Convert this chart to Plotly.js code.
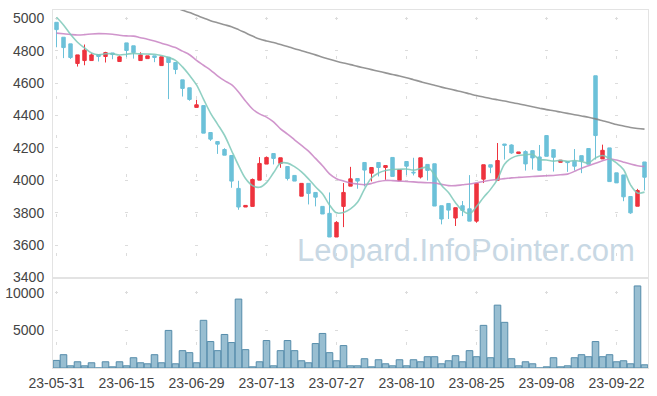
<!DOCTYPE html>
<html><head><meta charset="utf-8">
<script src="https://cdn.plot.ly/plotly-3.0.1.min.js"></script>
<style>html,body{margin:0;padding:0;background:#fff}#chart{width:657px;height:396px}</style>
</head><body><div id="chart"></div>
<script>
const dates = ['23-05-31','23-06-01','23-06-02','23-06-05','23-06-07','23-06-08','23-06-09','23-06-12','23-06-13','23-06-14',
'23-06-15','23-06-16','23-06-19','23-06-20','23-06-21','23-06-22','23-06-23','23-06-26','23-06-27','23-06-28',
'23-06-29','23-06-30','23-07-03','23-07-04','23-07-05','23-07-06','23-07-07','23-07-10','23-07-11','23-07-12',
'23-07-13','23-07-14','23-07-17','23-07-18','23-07-19','23-07-20','23-07-21','23-07-24','23-07-25','23-07-26',
'23-07-27','23-07-28','23-07-31','23-08-01','23-08-02','23-08-03','23-08-04','23-08-07','23-08-08','23-08-09',
'23-08-10','23-08-11','23-08-14','23-08-16','23-08-17','23-08-18','23-08-21','23-08-22','23-08-23','23-08-24',
'23-08-25','23-08-28','23-08-29','23-08-30','23-08-31','23-09-01','23-09-04','23-09-05','23-09-06','23-09-07',
'23-09-08','23-09-11','23-09-12','23-09-13','23-09-14','23-09-15','23-09-18','23-09-19','23-09-20','23-09-21',
'23-09-22','23-09-25','23-09-26','23-09-27','23-10-04'];

const openP = [4975,4883,4842,4721,4739,4739,4776,4764,4786,4733, 4848,4830,4739,4751,4768,4708,4760,4727,4620,4571,
4450,4461,4295,4239,4190,4153,3950,3835,3839,4001, 4100,4165,4104,4085,4030,3902,3981,3925,3839,3796,
3650,3839,3964,4011,4110,4044,4110,4079,4141,3999, 4116,4050,4020,4098,4102,3843,3857,3767,3843,3824,
3748,4007,4096,4000,4224,4218,4165,4177,4183,4144, 4276,4189,4111,4116,4118,4152,4196,4645,4132,4200,
4046,4033,3900,3840,4113];
const highP = [4975,4883,4842,4774,4838,4784,4776,4793,4786,4770, 4848,4830,4790,4768,4768,4762,4760,4727,4620,4571,
4497,4461,4295,4239,4198,4153,3997,3845,4011,4143, 4147,4165,4139,4085,4030,3981,3981,3925,3839,3925,
3748,3983,4083,4011,4110,4079,4110,4091,4141,4067, 4116,4139,4139,4098,4102,3843,3857,3831,3872,4032,
3981,4096,4096,4230,4224,4222,4175,4185,4183,4218, 4276,4189,4124,4116,4193,4152,4196,4645,4220,4200,
4046,4033,3900,3947,4113];
const lowP = [4821,4754,4749,4702,4710,4739,4733,4727,4747,4733, 4760,4751,4739,4751,4729,4708,4501,4655,4517,4491,
4450,4291,4243,4163,4155,3954,3818,3835,3839,4001, 4100,4098,4077,3999,3995,3902,3851,3839,3792,3650,
3650,3711,3964,3948,3962,3993,4024,4003,4024,3999, 4032,4030,4011,3999,3841,3728,3761,3718,3779,3748,
3738,3983,4044,4000,4128,4163,4165,4060,4066,4062, 4148,4054,4111,4052,4060,4044,4099,4128,4132,3992,
3984,3871,3793,3840,3937];
const closeP = [4930,4819,4758,4774,4803,4774,4764,4788,4776,4762, 4801,4788,4774,4768,4758,4762,4727,4684,4567,4499,
4466,4291,4254,4223,4155,3995,3835,3845,4005,4104, 4141,4135,4139,4011,3995,3981,3919,3896,3792,3650,
3740,3925,4009,3995,4063,4079,4079,4091,4024,4067, 4087,4046,4139,4061,3841,3761,3816,3831,3814,3748,
3981,4096,4081,4122,4216,4169,4175,4101,4138,4062, 4148,4142,4124,4109,4087,4118,4099,4276,4185,3992,
3984,3898,3799,3937,4019];

const ma5 = [5006,4959,4901,4852,4817,4786,4775,4781,4781,4773, 4778,4783,4780,4779,4778,4770,4758,4740,4700,4648,
4589,4501,4415,4347,4278,4184,4092,4011,3967,3957, 3986,4046,4105,4106,4084,4052,4009,3960,3917,3848,
3799,3801,3823,3864,3946,4014,4045,4061,4067,4068, 4070,4063,4073,4080,4035,3970,3924,3862,3813,3794,
3838,3894,3944,4006,4099,4137,4153,4157,4160,4129, 4125,4118,4123,4117,4122,4116,4107,4138,4153,4134,
4107,4067,3972,3922,3927];
const ma20 = [4908,4904,4900,4897,4899,4903,4905,4904,4901,4895, 4891,4890,4880,4871,4860,4846,4833,4819,4797,4775,
4740,4710,4680,4645,4615,4590,4545,4490,4440,4410, 4390,4360,4318,4285,4250,4215,4180,4135,4090,4040,
4010,3995,3983,3977,3973,3980,3992,3999,3998,3995, 3993,3990,3987,3985,3983,3975,3967,3967,3972,3977,
3985,3993,4000,4006,4010,4015,4018,4020,4023,4026, 4028,4030,4034,4038,4055,4075,4090,4105,4120,4131,
4125,4112,4100,4090,4085];
const ma60 = [null,null,null,null,null,null,null,null,null,null, null,null,null,null,null,null,null,5065,5050,5035,
5018,5002,4985,4972,4960,4948,4930,4910,4890,4872, 4860,4850,4838,4826,4812,4800,4787,4774,4760,4747,
4735,4724,4714,4703,4693,4683,4673,4663,4653,4644, 4633,4621,4609,4597,4586,4575,4565,4555,4545,4534,
4523,4514,4505,4497,4489,4480,4472,4463,4454,4445, 4436,4429,4421,4413,4405,4397,4389,4379,4368,4357,
4344,4335,4326,4320,4316];

const volume = [1008,1770,291,829,291,694,0,829,157,829, 291,1366,694,560,1770,694,4995,560,2307,2038,
694,6339,3517,2307,4458,3382,9162,2442,157,829, 3651,291,2307,3651,2307,963,694,3248,4592,2038,
963,2979,291,291,1232,157,1098,560,291,1098, 291,1098,829,1501,1501,560,963,1635,829,2307,
1501,5667,1366,8355,6070,1232,291,829,560,0, 157,1366,157,291,1366,1770,1501,3517,1501,1770,
829,963,560,10909,426];

const priceTicks = [3400,3600,3800,4000,4200,4400,4600,4800,5000];
const volumeTicks = [5000,10000];
const xTickLabels = ['23-05-31','23-06-15','23-06-29','23-07-13','23-07-27','23-08-10','23-08-25','23-09-08','23-09-22'];

const UP = '#ee333e', DOWN = '#6cc1d9';
const traces = [
  {type:'candlestick', x:dates, open:openP, high:highP, low:lowP, close:closeP,
   xaxis:'x2', yaxis:'y2', whiskerwidth:0, hoverinfo:'skip',
   increasing:{line:{color:UP,width:1}, fillcolor:UP},
   decreasing:{line:{color:DOWN,width:1}, fillcolor:DOWN}},
  {type:'scatter', mode:'lines', x:dates, y:ma60, xaxis:'x2', yaxis:'y2', hoverinfo:'skip',
   line:{color:'rgba(130,130,130,0.85)', width:1.6, shape:'spline'}},
  {type:'scatter', mode:'lines', x:dates, y:ma20, xaxis:'x2', yaxis:'y2', hoverinfo:'skip',
   line:{color:'rgba(200,130,195,0.85)', width:1.6, shape:'spline'}},
  {type:'scatter', mode:'lines', x:dates, y:ma5, xaxis:'x2', yaxis:'y2', hoverinfo:'skip',
   line:{color:'rgba(125,200,185,0.85)', width:1.6, shape:'spline'}},
  {type:'bar', x:dates, y:volume, xaxis:'x', yaxis:'y', hoverinfo:'skip',
   marker:{color:'rgba(118,168,194,0.75)', line:{color:'rgb(85,140,170)', width:1}}}
];

const split = 0.2514;
const axFont = {family:'Liberation Sans, Arial, sans-serif', size:14, color:'#444'};
const lineC = '#e3e3e3';
const layout = {
  width:657, height:396,
  margin:{l:53, r:9, t:10, b:28, pad:0},
  paper_bgcolor:'#fff', plot_bgcolor:'#fff',
  showlegend:false, bargap:0.06, boxgap:0.3,
  xaxis:{type:'category', domain:[0,1], anchor:'y', range:[-0.5,84.5],
    tickmode:'array', tickvals:xTickLabels, ticktext:xTickLabels,
    tickfont:axFont, showline:true, mirror:true, linecolor:lineC, linewidth:1,
    showgrid:true, gridcolor:'#dcdcdc', gridwidth:1, griddash:'0px,13.2px,3px,34.4px',
    ticks:'outside', ticklen:2, tickcolor:'rgba(0,0,0,0)', zeroline:false,
    rangeslider:{visible:false}, fixedrange:true},
  yaxis:{domain:[0,split], anchor:'x', range:[0,11965],
    tickmode:'array', tickvals:volumeTicks, ticktext:['5000','10000'],
    tickfont:axFont, showline:true, mirror:true, linecolor:lineC, linewidth:1,
    showgrid:true, gridcolor:'#dcdcdc', gridwidth:1, griddash:'0px,2px,3px,65px',
    ticks:'outside', ticklen:5, tickcolor:'rgba(0,0,0,0)', zeroline:false, fixedrange:true},
  xaxis2:{type:'category', domain:[0,1], anchor:'y2', matches:'x', range:[-0.5,84.5],
    tickmode:'array', tickvals:xTickLabels, showticklabels:false,
    showline:true, mirror:true, linecolor:lineC, linewidth:1,
    showgrid:true, gridcolor:'#dcdcdc', gridwidth:1, griddash:'0px,6.8px,3px,29.6px',
    zeroline:false, rangeslider:{visible:false}, fixedrange:true},
  yaxis2:{domain:[split,1], anchor:'x2', range:[3397,5051],
    tickmode:'array', tickvals:priceTicks, ticktext:priceTicks.map(String),
    tickfont:axFont, showline:true, mirror:true, linecolor:lineC, linewidth:1,
    showgrid:true, gridcolor:'#dcdcdc', gridwidth:1, griddash:'0px,2px,3px,65px',
    ticks:'outside', ticklen:5, tickcolor:'rgba(0,0,0,0)', zeroline:false, fixedrange:true},
  annotations:[{text:'Leopard.InfoPointer.com', xref:'paper', yref:'y2', x:0.9815, y:3564,
    xanchor:'right', yanchor:'middle', showarrow:false,
    font:{family:'Liberation Sans, Arial, sans-serif', size:31, color:'rgb(200,216,228)'}}]
};
Plotly.newPlot('chart', traces, layout, {displayModeBar:false, staticPlot:true});
</script>
</body></html>
